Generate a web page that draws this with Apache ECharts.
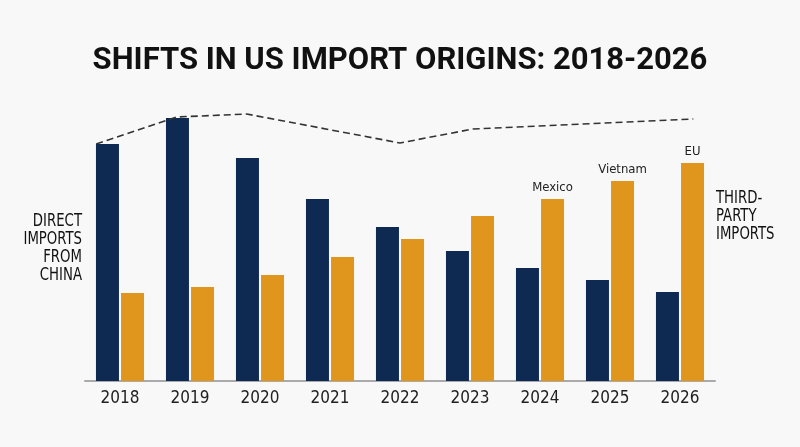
<!DOCTYPE html>
<html>
<head>
<meta charset="utf-8">
<script src="https://cdn.jsdelivr.net/npm/echarts@6/dist/echarts.min.js"></script>
<style>
  html, body { margin: 0; padding: 0; background: #f8f8f8; }
  #chart { width: 800px; height: 447px; }
</style>
</head>
<body>
<div id="chart"></div>
<script>
// data (index units)
var years = ['2018', '2019', '2020', '2021', '2022', '2023', '2024', '2025', '2026'];
var chinaDirect = [237, 263, 223, 182, 154, 130, 113, 101, 89];
var thirdParty = [88, 94, 106, 124, 142, 165, 182, 200, 218];
var originLabels = ['', '', '', '', '', '', 'Mexico', 'Vietnam', 'EU'];
// dashed trend line, x in category index units
var trendX = [-0.34, 0.81, 1.81, 4.0, 5.04, 8.19];
var trendY = [237, 264, 267, 238, 252, 262];

var condensed = "'DejaVu Sans Condensed', Roboto, sans-serif";

var chart = echarts.init(document.getElementById('chart'), null, { renderer: 'canvas' });

var option = {
  backgroundColor: '#f8f8f8',
  animation: false,
  title: {
    text: 'SHIFTS IN US IMPORT ORIGINS: 2018-2026',
    left: 'center',
    top: 41,
    textStyle: { fontFamily: 'Roboto', fontWeight: 'bold', fontSize: 31, color: '#111' }
  },
  grid: { left: 85, right: 85, top: 81, bottom: 66 },
  xAxis: [{
    type: 'category',
    data: years,
    axisTick: { show: false },
    axisLine: { lineStyle: { color: '#aaa', width: 2 } },
    axisLabel: { color: '#222', fontSize: 17, fontFamily: condensed, margin: 9 }
  }, {
    type: 'value',
    min: -0.5,
    max: 8.5,
    show: false
  }],
  yAxis: {
    type: 'value',
    min: 0,
    max: 300,
    show: false,
    splitLine: { show: false }
  },
  series: [{
    type: 'bar',
    data: chinaDirect,
    barWidth: 23,
    barGap: '9%',
    itemStyle: { color: '#0f2a52' }
  }, {
    type: 'bar',
    data: thirdParty.map(function (v, i) {
      return {
        value: v,
        label: {
          show: originLabels[i] !== '',
          formatter: originLabels[i],
          position: 'top',
          distance: 5,
          color: '#222',
          fontSize: 13,
          fontFamily: condensed
        }
      };
    }),
    barWidth: 23,
    itemStyle: { color: '#e0961c' }
  }, {
    type: 'line',
    xAxisIndex: 1,
    data: trendX.map(function (x, i) { return [x, trendY[i]]; }),
    symbol: 'none',
    lineStyle: { color: '#333', width: 1.6, type: [7, 4] },
    z: 5
  }],
  graphic: [{
    type: 'text',
    x: 82,
    y: 212,
    scaleX: 0.82,
    style: {
      text: 'DIRECT\nIMPORTS\nFROM\nCHINA',
      align: 'right',
      verticalAlign: 'top',
      fontFamily: condensed,
      fontSize: 18,
      lineHeight: 18,
      fill: '#111'
    }
  }, {
    type: 'text',
    x: 716,
    y: 189,
    scaleX: 0.82,
    style: {
      text: 'THIRD-\nPARTY\nIMPORTS',
      align: 'left',
      verticalAlign: 'top',
      fontFamily: condensed,
      fontSize: 18,
      lineHeight: 18,
      fill: '#111'
    }
  }]
};

chart.setOption(option);
window.addEventListener('resize', chart.resize);
</script>
</body>
</html>
